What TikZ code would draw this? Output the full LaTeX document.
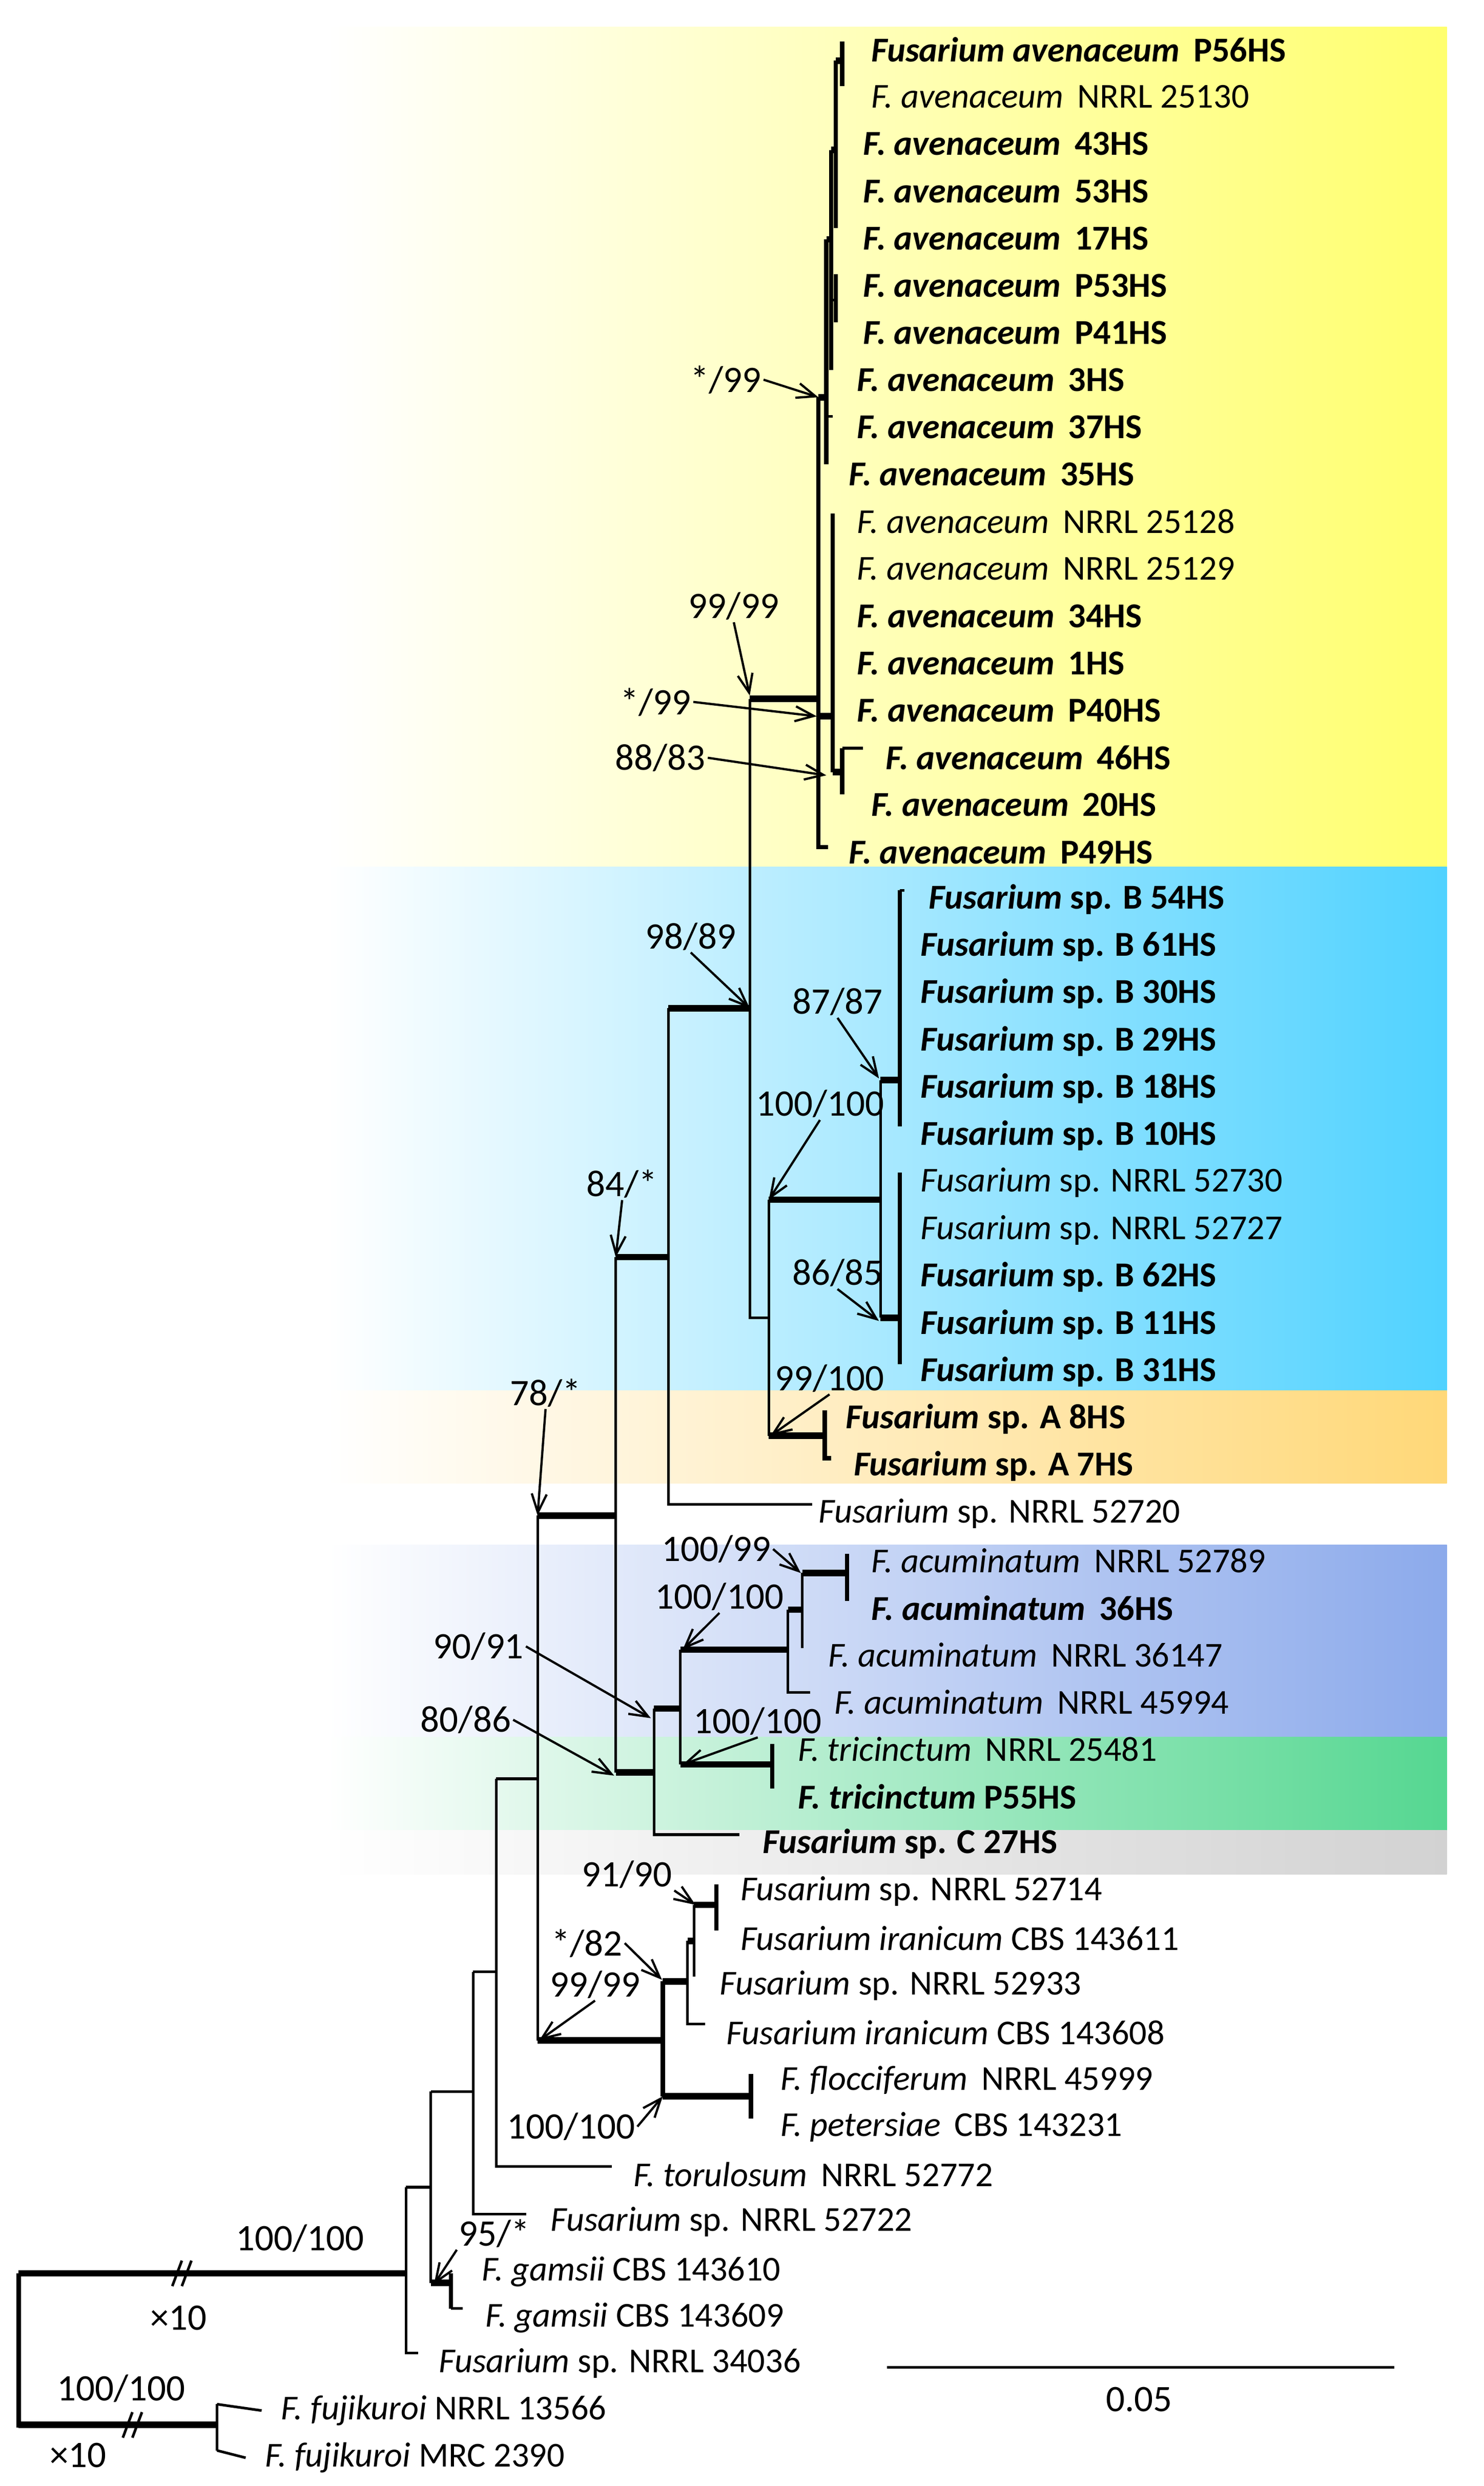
\documentclass[tikz,border=0pt]{standalone}
\usepackage{fontspec}
\setmainfont{Carlito}
\usetikzlibrary{arrows.meta}
\newcommand\lf{\fontsize{18.7}{20}\selectfont}
\newcommand\nf{\fontsize{20}{22}\selectfont}
\newcommand\bi[1]{\textbf{\textit{#1}}}
\begin{document}
\begin{tikzpicture}[x=0.03cm,y=-0.03cm,
  br/.style={line width=1.4pt},
  thk/.style={line width=3.5pt},
  med/.style={line width=2.3pt},
  lab/.style={anchor=west,inner sep=0pt,font=\lf},
  bs/.style={font=\nf,inner sep=1pt},
  ar/.style={line width=1.2pt,-{Straight Barb[length=10pt,width=8pt]}}]
\useasboundingbox (0,0) rectangle (930,1558.3);
% backgrounds
\shade[left color=white,right color={rgb,255:red,255;green,255;blue,110}] (205,17) rectangle (907,543.5);
\shade[left color=white,right color={rgb,255:red,80;green,210;blue,255}] (205,543.5) rectangle (907,871.6);
\shade[left color=white,right color={rgb,255:red,255;green,216;blue,120}] (205,871.6) rectangle (907,929.7);
\shade[left color=white,right color={rgb,255:red,140;green,170;blue,235}] (205,968.4) rectangle (907,1088.8);
\shade[left color=white,right color={rgb,255:red,85;green,215;blue,145}] (205,1088.8) rectangle (907,1147.4);
\shade[left color=white,right color={rgb,255:red,210;green,210;blue,210}] (205,1147.4) rectangle (907,1175);

% tip labels
\node[lab] (t1) at (546,31) {\bi{Fusarium avenaceum}\, \textbf{P56HS}};
\node[lab] (t2) at (546,60.6) {\textit{F. avenaceum}\, NRRL 25130};
\node[lab] (t3) at (541,90.2) {\bi{F. avenaceum}\, \textbf{43HS}};
\node[lab] (t4) at (541,119.8) {\bi{F. avenaceum}\, \textbf{53HS}};
\node[lab] (t5) at (541,149.4) {\bi{F. avenaceum}\, \textbf{17HS}};
\node[lab] (t6) at (541,179) {\bi{F. avenaceum}\, \textbf{P53HS}};
\node[lab] (t7) at (541,208.6) {\bi{F. avenaceum}\, \textbf{P41HS}};
\node[lab] (t8) at (537,238.2) {\bi{F. avenaceum}\, \textbf{3HS}};
\node[lab] (t9) at (537,267.8) {\bi{F. avenaceum}\, \textbf{37HS}};
\node[lab] (t10) at (532,297.4) {\bi{F. avenaceum}\, \textbf{35HS}};
\node[lab] (t11) at (537,327) {\textit{F. avenaceum}\, NRRL 25128};
\node[lab] (t12) at (537,356.6) {\textit{F. avenaceum}\, NRRL 25129};
\node[lab] (t13) at (537,386.2) {\bi{F. avenaceum}\, \textbf{34HS}};
\node[lab] (t14) at (537,415.8) {\bi{F. avenaceum}\, \textbf{1HS}};
\node[lab] (t15) at (537,445.4) {\bi{F. avenaceum}\, \textbf{P40HS}};
\node[lab] (t16) at (555,475) {\bi{F. avenaceum}\, \textbf{46HS}};
\node[lab] (t17) at (546,504.6) {\bi{F. avenaceum}\, \textbf{20HS}};
\node[lab] (t18) at (532,534.2) {\bi{F. avenaceum}\, \textbf{P49HS}};
\node[lab] (t19) at (582,563.8) {\bi{Fusarium} \textbf{sp. B 54HS}};
\node[lab] (t20) at (577,593.4) {\bi{Fusarium} \textbf{sp. B 61HS}};
\node[lab] (t21) at (577,623) {\bi{Fusarium} \textbf{sp. B 30HS}};
\node[lab] (t22) at (577,652.6) {\bi{Fusarium} \textbf{sp. B 29HS}};
\node[lab] (t23) at (577,682.2) {\bi{Fusarium} \textbf{sp. B 18HS}};
\node[lab] (t24) at (577,711.8) {\bi{Fusarium} \textbf{sp. B 10HS}};
\node[lab] (t25) at (577,741.4) {\textit{Fusarium} sp. NRRL 52730};
\node[lab] (t26) at (577,771) {\textit{Fusarium} sp. NRRL 52727};
\node[lab] (t27) at (577,800.6) {\bi{Fusarium} \textbf{sp. B 62HS}};
\node[lab] (t28) at (577,830.2) {\bi{Fusarium} \textbf{sp. B 11HS}};
\node[lab] (t29) at (577,859.8) {\bi{Fusarium} \textbf{sp. B 31HS}};
\node[lab] (t30) at (530,889.4) {\bi{Fusarium} \textbf{sp. A 8HS}};
\node[lab] (t31) at (535,919) {\bi{Fusarium} \textbf{sp. A 7HS}};
\node[lab] (t32) at (513,948.6) {\textit{Fusarium} sp. NRRL 52720};
\node[lab] (t33) at (546,978.2) {\textit{F. acuminatum}\, NRRL 52789};
\node[lab] (t34) at (546,1007.8) {\bi{F. acuminatum}\, \textbf{36HS}};
\node[lab] (t35) at (519,1037.4) {\textit{F. acuminatum}\, NRRL 36147};
\node[lab] (t36) at (523,1067) {\textit{F. acuminatum}\, NRRL 45994};
\node[lab] (t37) at (500,1096.6) {\textit{F. tricinctum}\, NRRL 25481};
\node[lab] (t38) at (500,1126.2) {\bi{F. tricinctum} \textbf{P55HS}};
\node[lab] (t39) at (478,1155.8) {\bi{Fusarium} \textbf{sp. C 27HS}};
\node[lab] (t40) at (464,1185.4) {\textit{Fusarium} sp. NRRL 52714};
\node[lab] (t41) at (464,1215) {\textit{Fusarium iranicum} CBS 143611};
\node[lab] (t42) at (451,1244.6) {\textit{Fusarium} sp. NRRL 52933};
\node[lab] (t43) at (455,1274.2) {\textit{Fusarium iranicum} CBS 143608};
\node[lab] (t44) at (489,1303.8) {\textit{F. flocciferum}\, NRRL 45999};
\node[lab] (t45) at (489,1333.4) {\textit{F. petersiae}\, CBS 143231};
\node[lab] (t46) at (397,1363) {\textit{F. torulosum}\, NRRL 52772};
\node[lab] (t47) at (345,1392.6) {\textit{Fusarium} sp. NRRL 52722};
\node[lab] (t48) at (302,1424) {\textit{F. gamsii} CBS 143610};
\node[lab] (t49) at (304,1453) {\textit{F. gamsii} CBS 143609};
\node[lab] (t50) at (275,1481.4) {\textit{Fusarium} sp. NRRL 34036};
\node[lab] (t51) at (176,1511) {\textit{F. fujikuroi} NRRL 13566};
\node[lab] (t52) at (166,1540.6) {\textit{F. fujikuroi} MRC 2390};

% internal node coordinates
\coordinate (root) at (11.7,1425);
\coordinate (ing) at (254.5,1425);
\coordinate (fuj) at (136,1520);
\coordinate (n270) at (270,1371);
\coordinate (gam) at (282.7,1431);
\coordinate (n297) at (296.6,1311);
\coordinate (n311) at (311,1236);
\coordinate (n78) at (337,1115);
\coordinate (n84) at (386,950);
\coordinate (n98) at (419,788);
\coordinate (n99) at (470,632);
\coordinate (nav) at (513,438);
\coordinate (nBA) at (482,826);
\coordinate (nB) at (552,752);
\coordinate (nA) at (517,900);
\coordinate (n90) at (410,1111);
\coordinate (nat) at (426.5,1071);
\coordinate (nacu) at (494,1034);
\coordinate (ntri) at (484,1106);
\coordinate (nir) at (415.5,1279);

% root
\draw[thk] (root) -- (ing);
\draw[thk] (root |- fuj) -- (fuj);
\draw[med] (11.7,1425) -- (11.7,1521.5);
\draw[br] (136,1507) -- (136,1536);
\draw[br] (136,1507) -- ([xshift=-0.36cm]t51.west);
\draw[br] (136,1536) -- ([xshift=-0.36cm]t52.west);
\draw[line width=1.4pt] (108,1433) -- (114,1417) (114,1433) -- (120,1417);
\draw[line width=1.4pt] (77,1528) -- (83,1512) (83,1528) -- (89,1512);
\node[bs] (r1) at (188,1403) {100/100};
\node[bs] (r2) at (112,1453) {×10};
\node[bs] (r3) at (76,1497) {100/100};
\node[bs] (r4) at (49,1539) {×10};

% ingroup base
\draw[br] (254.5,1371) -- (254.5,1475) -- (262,1475);
\draw[br] (254.5,1371) -- (270,1371);
\draw[br] (270,1311) -- (270,1431);
\draw[thk] (270,1431) -- (gam);
\draw[med] (282.7,1425) -- (282.7,1447);
\draw[br] (282.7,1447) -- (290,1447);
\draw[br] (270,1311) -- (n297);
\draw[br] (296.6,1236) -- (296.6,1388) -- (330,1388);
\draw[br] (296.6,1236) -- (n311);
\draw[br] (311,1115) -- (311,1358) -- (383.5,1358);
\draw[br] (311,1115) -- (n78);
\draw[br] (337,950) -- (337,1279);
\draw[thk] (337,950) -- (n84);
\draw[thk] (337,1279) -- (nir);

% iranicum group
\draw[med] (415.5,1242) -- (415.5,1314);
\draw[thk] (415.5,1242) -- (431,1242);
\draw[br] (431,1216.6) -- (431,1268.6) -- (442,1268.6);
\draw[thk] (431,1216.6) -- (435,1216.6);
\draw[br] (435,1194) -- (435,1239);
\draw[thk] (435,1194) -- (449,1194);
\draw[med] (449,1181) -- (449,1210);
\draw[thk] (415.5,1314) -- (470.7,1314);
\draw[med] (470.7,1300) -- (470.7,1328);

% 84 node
\draw[br] (386,788) -- (386,1111);
\draw[thk] (386,788) -- (n98);
\draw[thk] (386,1111) -- (n90);
\draw[br] (410,1071) -- (410,1150) -- (463.5,1150);
\draw[thk] (410,1071) -- (426.5,1071);
\draw[br] (426.5,1034) -- (426.5,1106);
\draw[thk] (426.5,1034) -- (nacu);
\draw[br] (494,1009) -- (494,1061) -- (508,1061);
\draw[thk] (494,1009) -- (503,1009);
\draw[br] (503,986) -- (503,1033);
\draw[thk] (503,986) -- (531,986);
\draw[med] (531,974) -- (531,1003.5);
\draw[thk] (426.5,1106) -- (ntri);
\draw[med] (484,1093) -- (484,1121);

% 98 node
\draw[br] (419,632) -- (419,943) -- (509,943);
\draw[thk] (419,632) -- (n99);
\draw[br] (470,438) -- (470,826) -- (nBA);
\draw[thk] (470,438) -- (nav);
\draw[br] (482,752) -- (482,900);
\draw[thk] (482,752) -- (nB);
\draw[thk] (482,900) -- (nA);
\draw[med] (517,884) -- (517,914) -- (521,914);
\draw[br] (552,677) -- (552,826);
\draw[thk] (552,677) -- (564,677);
\draw[thk] (552,826) -- (564,826);
\draw[med] (564,558) -- (564,706);
\draw[br] (564,558) -- (567,558);
\draw[med] (564,735) -- (564,855);

% avenaceum
\draw[med] (513,249) -- (513,531) -- (519,531);
\draw[thk] (513,249) -- (518,249);
\draw[med] (518,150) -- (518,291);
\draw[br] (518,261) -- (522,261);
\draw[thk] (518,150) -- (521,150);
\draw[med] (521,94) -- (521,232);
\draw[thk] (521,94) -- (524,94);
\draw[med] (524,38) -- (524,143);
\draw[thk] (524,38) -- (528,38);
\draw[med] (528,26) -- (528,54);
\draw[br] (521,188) -- (524,188);
\draw[med] (524,172) -- (524,202);
\draw[thk] (513,449) -- (521,449);
\draw[med] (522,322) -- (522,484);
\draw[thk] (522,484) -- (528,484);
\draw[med] (528,469) -- (528,498);
\draw[br] (528,469) -- (541,469);

% support values with arrows
\node[bs] (b1) at (455,238) {*/99};
\draw[ar] (b1.east) -- (nav |- 0,249);
\node[bs] (b2) at (460,380) {99/99};
\draw[ar] (b2.south) -- (470,436);
\node[bs] (b3) at (411,440) {*/99};
\draw[ar] (b3.east) -- (512,449);
\node[bs] (b4) at (414,475) {88/83};
\draw[ar] (b4.east) -- (518,486);
\node[bs] (b5) at (433,587) {98/89};
\draw[ar] (b5.south) -- (n99);
\node[bs] (b6) at (525,628) {87/87};
\draw[ar] (b6.south) -- (551,676);
\node[bs] (b7) at (514,692) {100/100};
\draw[ar] (b7.south) -- (nBA |- nB);
\node[bs] (b8) at (525,798) {86/85};
\draw[ar] (b8.south) -- (551,828);
\node[bs] (b9) at (520,864) {99/100};
\draw[ar] (b9.south) -- (483,900);
\node[bs] (b10) at (390,742) {84/*};
\draw[ar] (b10.south) -- (n98 -| n84);
\node[bs] (b11) at (342,873) {78/*};
\draw[ar] (b11.south) -- (n84 -| n78);
\node[bs] (b12) at (449,971) {100/99};
\draw[ar] (b12.east) -- (502,986);
\node[bs] (b13) at (451,1001) {100/100};
\draw[ar] (b13.south) -- (428,1034);
\node[bs] (b14) at (300,1032) {90/91};
\draw[ar] (b14.east) -- (408,1077);
\node[bs] (b15) at (292,1078) {80/86};
\draw[ar] (b15.east) -- (385,1113);
\node[bs] (b16) at (475,1079) {100/100};
\draw[ar] (b16.south) -- (428,1106);
\node[bs] (b17) at (393,1175) {91/90};
\draw[ar] (b17.south east) -- (436,1194);
\node[bs] (b18) at (368,1218) {*/82};
\draw[ar] (b18.east) -- (415,1241);
\node[bs] (b19) at (373,1244) {99/99};
\draw[ar] (b19.south) -- (338,1279);
\node[bs] (b20) at (358,1333) {100/100};
\draw[ar] (b20.east) -- (415.5,1314);
\node[bs] (b21) at (310,1400) {95/*};
\draw[ar] (b21.south west) -- (272,1432);

% scale bar
\coordinate (s1) at (556,1484);
\coordinate (s2) at (874,1484);
\draw[br] (s1) -- (s2);
\node[bs] (sl) at (714,1504) {0.05};
\end{tikzpicture}
\end{document}
